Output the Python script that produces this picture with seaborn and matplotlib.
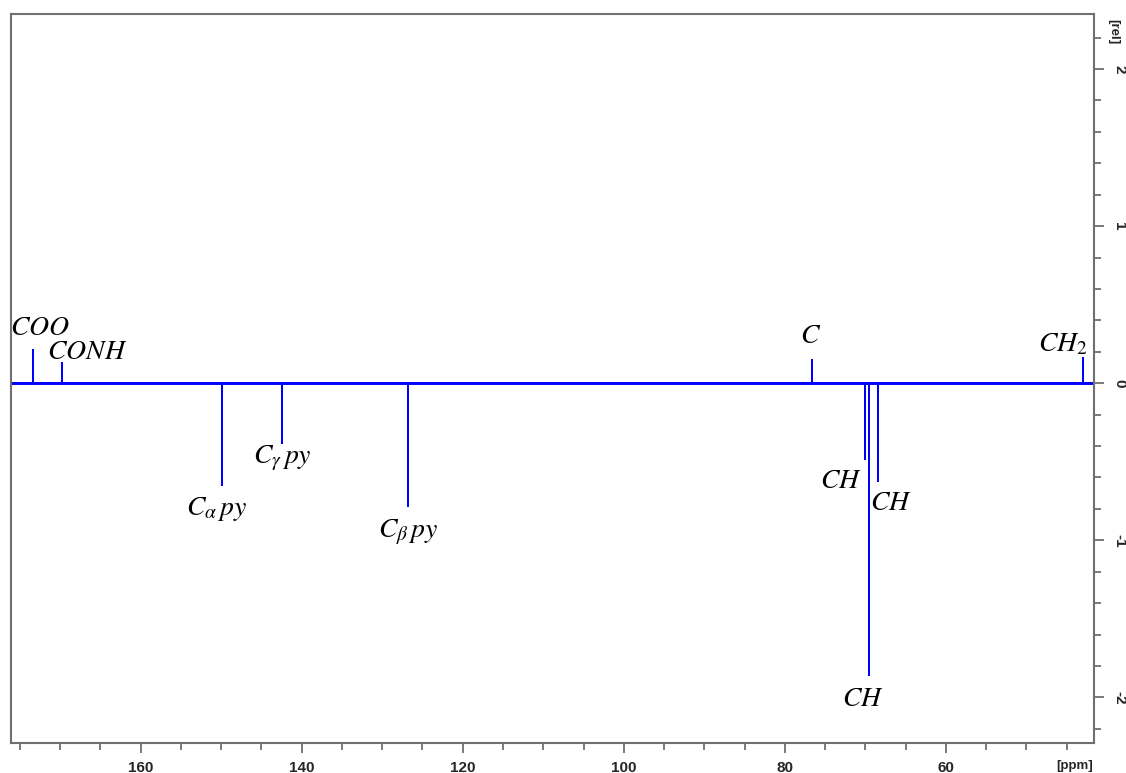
import pandas as pd
import matplotlib
matplotlib.use('Agg')
import matplotlib.pyplot as plt
import seaborn as sns
from matplotlib.ticker import MultipleLocator

# 峰位置（ppm）与相对强度
peak_ppm = [173.4, 169.8, 149.9, 142.5, 126.8, 76.65, 70.1, 69.6, 68.45, 43.0]
peak_rel = [0.21, 0.13, -0.65, -0.38, -0.78, 0.15, -0.48, -1.86, -0.62, 0.16]

# 标注文字及其位置
label_text = [r'$COO$', r'$CONH$', r'$C_{\alpha}\,py$', r'$C_{\gamma}\,py$', r'$C_{\beta}\,py$',
              r'$C$', r'$CH$', r'$CH$', r'$CH$', r'$CH_2$']
label_ppm = [172.5, 166.6, 150.6, 142.4, 126.8, 76.8, 73.0, 66.8, 70.3, 45.5]
label_rel = [0.35, 0.20, -0.80, -0.48, -0.95, 0.30, -0.62, -0.76, -2.01, 0.25]

x_range = (176.1, 41.6)
y_range = (-2.29, 2.35)

# 棒状谱线：基线 + 每个峰的竖线
pts = [(x_range[0], 0.0)]
for p, h in sorted(zip(peak_ppm, peak_rel), key=lambda t: -t[0]):
    pts += [(p, 0.0), (p, h), (p, 0.0)]
pts.append((x_range[1], 0.0))
spec = pd.DataFrame(pts, columns=['ppm', 'rel'])
baseline = pd.DataFrame({'ppm': list(x_range), 'rel': [0.0, 0.0]})

sns.set_style('white')
plt.rcParams['axes.unicode_minus'] = False
plt.rcParams['mathtext.fontset'] = 'stix'
plt.rcParams['font.family'] = ['Liberation Sans', 'DejaVu Sans']

fig = plt.figure(figsize=(11.26, 7.73), dpi=100)
ax = fig.add_axes([11 / 1126, 1 - 743 / 773, (1094 - 11) / 1126, (743 - 14) / 773])

sns.lineplot(data=baseline, x='ppm', y='rel', sort=False, estimator=None,
             color='#0000ff', linewidth=2.1, ax=ax)
sns.lineplot(data=spec, x='ppm', y='rel', sort=False, estimator=None,
             color='#0000ff', linewidth=1.4, ax=ax)

for t, xp, yp in zip(label_text, label_ppm, label_rel):
    ax.text(xp, yp, t, fontsize=20, ha='center', va='center', color='black')

ax.set_xlim(*x_range)
ax.set_ylim(*y_range)
ax.set_xlabel('')
ax.set_ylabel('')

ax.xaxis.set_major_locator(MultipleLocator(20))
ax.xaxis.set_minor_locator(MultipleLocator(5))
ax.yaxis.set_major_locator(MultipleLocator(1))
ax.yaxis.set_minor_locator(MultipleLocator(0.2))
ax.yaxis.tick_right()

grey = '#707070'
for s in ax.spines.values():
    s.set_color(grey)
    s.set_linewidth(1.5)
ax.tick_params(which='both', direction='out', color=grey, width=1.3)
ax.tick_params(which='major', length=7)
ax.tick_params(which='minor', length=5)
ax.tick_params(axis='x', which='both', bottom=True, top=False, labelsize=11, pad=6)
ax.tick_params(axis='y', which='both', right=True, left=False, labelsize=11, pad=6)
for lab in ax.get_xticklabels():
    lab.set_fontweight('bold')
for lab in ax.get_yticklabels():
    lab.set_fontweight('bold')
    lab.set_rotation(-90)
    lab.set_va('center')

fig.text(1075 / 1126, 1 - 766 / 773, '[ppm]', fontsize=9.5, fontweight='bold',
         ha='center', va='center')
fig.text(1113 / 1126, 1 - 32 / 773, '[rel]', fontsize=9.5, fontweight='bold',
         ha='center', va='center', rotation=-90)

fig.savefig('out.png', dpi=100)
